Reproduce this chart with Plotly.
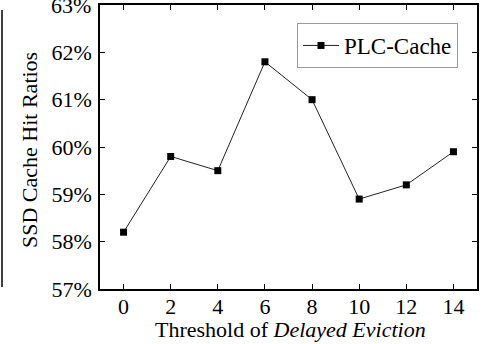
import plotly.graph_objects as go

thresholds = [0, 2, 4, 6, 8, 10, 12, 14]
hit_ratios = [58.2, 59.8, 59.5, 61.8, 61.0, 58.9, 59.2, 59.9]
y_ticks = [57, 58, 59, 60, 61, 62, 63]
y_tick_labels = [f"{v}%" for v in y_ticks]
x_ticks = [0, 2, 4, 6, 8, 10, 12, 14]

FONT = "Liberation Serif, Times New Roman, serif"
W, H = 494, 344
L, R, T, B = 100, 17, 5, 55
PW, PH = W - L - R, H - T - B

fig = go.Figure()
fig.add_trace(go.Scatter(
    x=thresholds, y=hit_ratios, mode="lines+markers", name="PLC-Cache",
    line=dict(color="#222222", width=1),
    marker=dict(symbol="square", size=7, color="black"),
))

axis_common = dict(
    showline=True, linecolor="black", linewidth=1.5, mirror="ticks",
    ticks="inside", ticklen=5, tickwidth=1.2, tickcolor="black",
    showgrid=False, zeroline=False, automargin=False,
    tickfont=dict(family=FONT, size=22, color="black"),
)

fig.update_layout(
    width=W, height=H,
    margin=dict(l=L, r=R, t=T, b=B, autoexpand=False),
    paper_bgcolor="white", plot_bgcolor="white",
    font=dict(family=FONT, color="black"),
    xaxis=dict(range=[-1, 15], tickvals=x_ticks, ticklabelstandoff=-3,
               **axis_common),
    yaxis=dict(range=[57, 63], tickvals=y_ticks, ticktext=y_tick_labels,
               ticklabelstandoff=2, **axis_common),
    legend=dict(x=(297 - L) / PW, y=(H - B - 23) / PH, xanchor="left", yanchor="top",
                bgcolor="white", bordercolor="#999999", borderwidth=1,
                font=dict(family=FONT, size=23), itemwidth=36,
                tracegroupgap=0),
    showlegend=True,
)

# top tick label, partly cut by the page edge as in the reference
fig.add_annotation(text=y_tick_labels[-1], xref="paper", yref="y",
                   x=(93 - L) / PW, y=y_ticks[-1], xanchor="right", yanchor="middle",
                   showarrow=False, font=dict(family=FONT, size=22, color="black"))

fig.add_annotation(text="SSD Cache Hit Ratios", xref="paper", yref="paper",
                   x=(29 - L) / PW, y=(H - B - 150) / PH, textangle=-90,
                   showarrow=False, xanchor="center", yanchor="middle",
                   font=dict(family=FONT, size=22, color="black"))
fig.add_annotation(text="Threshold of <i>Delayed Eviction</i>", xref="paper", yref="paper",
                   x=(290 - L) / PW, y=-(329 - (H - B)) / PH,
                   showarrow=False, xanchor="center", yanchor="middle",
                   font=dict(family=FONT, size=22, color="black"))

# fragment of a neighbouring figure's right axis at the left edge
fig.add_shape(type="line", xref="paper", yref="paper",
              x0=(2 - L) / PW, x1=(2 - L) / PW, y0=(H - B - 287) / PH, y1=(H - B - 10) / PH,
              line=dict(color="black", width=1.5))

fig.write_html("out.html", config={"displayModeBar": False},
               post_script="document.body.style.margin='0';document.body.style.overflow='hidden';")
